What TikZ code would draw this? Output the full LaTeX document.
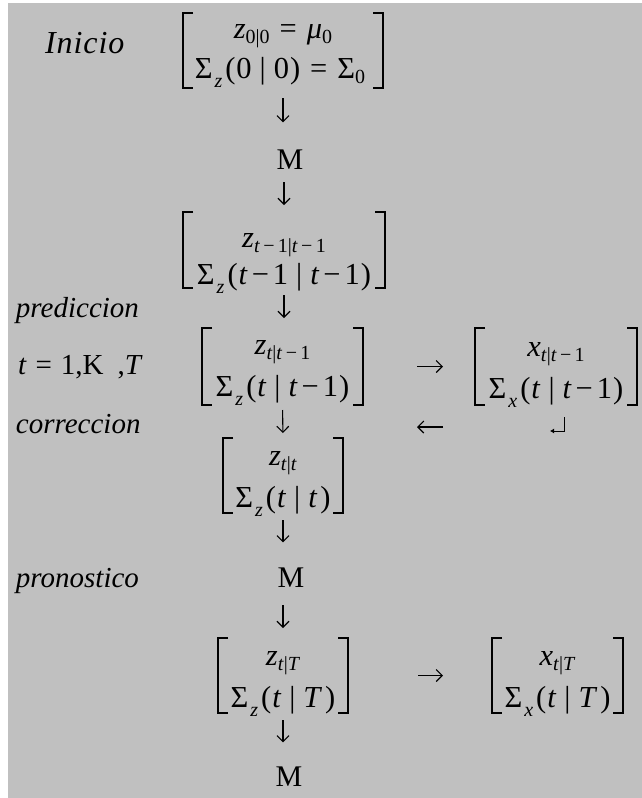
\documentclass[tikz,border=0pt]{standalone}
\usepackage{fontspec}
\setmainfont{Liberation Serif}
\usetikzlibrary{arrows.meta}
\definecolor{bgc}{HTML}{C0C0C0}
\newcommand\sbb[1]{\raisebox{-5pt}{\fontsize{20}{20}\selectfont #1}}
\newcommand\sbz[1]{\hspace{2pt}\raisebox{-9pt}{\fontsize{20}{20}\selectfont\itshape #1}\hspace{3pt}}
\newcommand\iv[1]{\textit{#1}}
\newcommand\vbr{\hspace{8pt}|\hspace{8pt}}
\newcommand\mn{\hspace{4pt}−\hspace{4pt}}
\newcommand\eqs{\hspace{10pt}=\hspace{10pt}}
\newcommand\lp{(\hspace{1pt}}
\newcommand\rp{\hspace{1pt})}
\begin{document}
\begin{tikzpicture}[x=1pt,y=-1pt,
  every node/.style={inner sep=0pt,outer sep=0pt,font=\fontsize{29}{34}\selectfont},
  bm/.style={draw=none,rectangle},
  row/.style={anchor=base,font=\fontsize{30.5}{36}\selectfont},
  mlab/.style={anchor=base,font=\fontsize{30}{34}\selectfont},
  lab/.style={anchor=base west},
  brk/.style={line width=1.1pt,black},
  arr/.style={line width=1.1pt,-{Straight Barb[length=6pt,width=12pt]}},
  retarr/.style={line width=1pt,-{Latex[length=4pt,width=5pt]}}]
\useasboundingbox (0,0) rectangle (642,798);
\fill[bgc] (8,3) rectangle (642,798);

% bracket frames
\node[bm,minimum width=200pt,minimum height=75pt] (m1) at (283,50.5) {};
\node[bm,minimum width=202pt,minimum height=76pt] (m2) at (284,250) {};
\node[bm,minimum width=161pt,minimum height=77pt] (m3) at (282.5,366.5) {};
\node[bm,minimum width=162pt,minimum height=77pt] (m4) at (556,366.5) {};
\node[bm,minimum width=120pt,minimum height=75pt] (m5) at (283,475.5) {};
\node[bm,minimum width=130pt,minimum height=75pt] (m6) at (283,675.5) {};
\node[bm,minimum width=131pt,minimum height=75pt] (m7) at (557.5,675.5) {};
\foreach \m in {m1,m2,m3,m4,m5,m6,m7}{
  \draw[brk] ([xshift=10pt]\m.north west) -- (\m.north west) -- (\m.south west) -- ([xshift=10pt]\m.south west);
  \draw[brk] ([xshift=-10pt]\m.north east) -- (\m.north east) -- (\m.south east) -- ([xshift=-10pt]\m.south east);
}

% rows
\node[row] (m1a) at ([yshift=-25pt]m1.north) {\iv{z}\sbb{0|0}\eqs\iv{μ}\sbb{0}};
\node[row] (m1b) at ([xshift=-3pt,yshift=-65pt]m1.north) {Σ\sbz{z}\lp0\vbr0\rp\eqs Σ\sbb{0}};
\node[row] (m2a) at ([yshift=-35pt]m2.north) {\iv{z}\sbb{\iv{t}\,−\,1|\iv{t}\,−\,1}};
\node[row] (m2b) at ([yshift=-72pt]m2.north) {Σ\sbz{z}\lp\iv{t}\mn1\vbr\iv{t}\mn1\rp};
\node[row] (m3a) at ([yshift=-26pt]m3.north) {\iv{z}\sbb{\iv{t}|\iv{t}\,−\,1}};
\node[row] (m3b) at ([yshift=-68pt]m3.north) {Σ\sbz{z}\lp\iv{t}\vbr\iv{t}\mn1\rp};
\node[row] (m4a) at ([yshift=-28pt]m4.north) {\iv{x}\sbb{\iv{t}|\iv{t}\,−\,1}};
\node[row] (m4b) at ([yshift=-70pt]m4.north) {Σ\sbz{x}\lp\iv{t}\vbr\iv{t}\mn1\rp};
\node[row] (m5a) at ([yshift=-27pt]m5.north) {\iv{z}\sbb{\iv{t}|\iv{t}}};
\node[row] (m5b) at ([yshift=-69pt]m5.north) {Σ\sbz{z}\lp\iv{t}\vbr\iv{t}\hspace{3pt})};
\node[row] (m6a) at ([yshift=-27pt]m6.north) {\iv{z}\sbb{\iv{t}|\iv{T}}};
\node[row] (m6b) at ([yshift=-69pt]m6.north) {Σ\sbz{z}\lp\iv{t}\vbr\iv{T}\hspace{3pt})};
\node[row] (m7a) at ([yshift=-27pt]m7.north) {\iv{x}\sbb{\iv{t}|\iv{T}}};
\node[row] (m7b) at ([yshift=-69pt]m7.north) {Σ\sbz{x}\lp\iv{t}\vbr\iv{T}\hspace{3pt})};

% labels
\node[lab,font=\fontsize{32}{36}\selectfont] (inicio) at (45,53) {\addfontfeatures{LetterSpace=3}\iv{Inicio}};
\node[lab] (pred) at (16,317) {\iv{prediccion}};
\node[lab] (trange) at (18,374) {\iv{t}\hspace{9pt}=\hspace{9pt}1,K\hspace{14pt},\iv{T}};
\node[lab] (corr) at (16,433) {\iv{correccion}};
\node[lab] (pron) at (16,587) {\iv{pronostico}};

% M nodes
\node[mlab] (M1) at (290,169) {M};
\node[mlab] (M2) at (291,587) {M};
\node[mlab] (M3) at (289,786) {M};

% vertical connectors
\draw[arr,shorten <=10pt,shorten >=27pt] (m1.south) -- (m1.south |- M1.north);
\draw[arr,shorten <=13pt,shorten >=7pt] (m2.north |- M1.south) -- (m2.north);
\draw[arr,shorten <=7pt,shorten >=10pt] (m2.south) -- (m2.south |- m3.north);
\draw[arr,shorten <=5pt,shorten >=5pt] (m3.south) -- (m5.north);
\draw[arr,shorten <=7pt,shorten >=25pt] (m5.south) -- (m5.south |- M2.north);
\draw[arr,shorten <=18pt,shorten >=10pt] (m6.north |- M2.south) -- (m6.north);
\draw[arr,shorten <=7pt,shorten >=24pt] (m6.south) -- (m6.south |- M3.north);

% horizontal connectors
\draw[arr,shorten <=54pt,shorten >=32pt] (m3.east) -- (m4.west);
\draw[arr,shorten <=70pt,shorten >=49pt] (m6.east) -- (m7.west);
\coordinate (lfrom) at (443,427);
\coordinate (lto) at (417,427);
\draw[arr] (lfrom) -- (lto);
\coordinate (rtop) at (564,417);
\coordinate (rend) at (550,431);
\draw[retarr] (rtop) |- (rend);
\end{tikzpicture}
\end{document}
